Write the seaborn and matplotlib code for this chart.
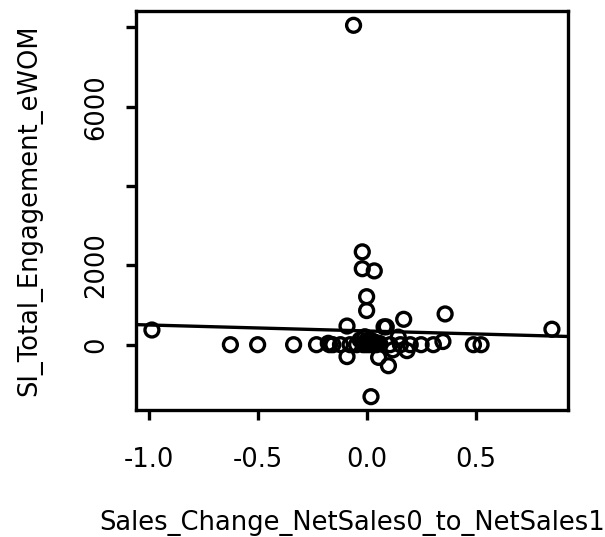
import matplotlib
matplotlib.use("Agg")
import matplotlib.pyplot as plt
import numpy as np
import pandas as pd
import seaborn as sns

# values
sales_change = [-0.06, -0.02, -0.02, 0.035, 0.0, 0.0, 0.36, 0.17, -0.09, 0.08, 0.09,
                -0.985, 0.85, 0.35, 0.145, -0.09, 0.055, 0.10, 0.02, 0.12, 0.185,
                -0.625, -0.50, -0.335, -0.23, -0.17, -0.155, -0.12, -0.076, -0.046,
                -0.015, 0.0, 0.015, 0.03, 0.045, 0.107, 0.155, 0.20, 0.25, 0.306,
                0.49, 0.525, -0.176, -0.03, -0.008, 0.015, 0.038, 0.06, 0.01, 0.025,
                0.04, 0.0, 0.02]
engagement = [8050, 2340, 1915, 1860, 1210, 860, 775, 640, 470, 450, 450,
              370, 390, 80, 190, -300, -320, -530, -1310, -130, -150,
              0, 0, 0, 0, 0, 0, 0, 0, 0,
              0, 0, 0, 0, 0, 0, 0, 0, 0, 0,
              0, 0, 35, 120, 200, 120, 35, 30, 60, 90,
              60, 100, 20]

df = pd.DataFrame({"Sales_Change_NetSales0_to_NetSales1": sales_change,
                   "SI_Total_Engagement_eWOM": engagement})

sns.set_style("white")
plt.rcParams['font.family'] = ['DejaVu Sans']
plt.rcParams['text.color'] = 'black'
plt.rcParams['axes.labelcolor'] = 'black'

fig = plt.figure(figsize=(6.05, 5.37), dpi=100)
ax = fig.add_axes([0.2248, 0.2365, 0.7145, 0.7435])

sns.regplot(data=df, x="Sales_Change_NetSales0_to_NetSales1", y="SI_Total_Engagement_eWOM",
            ax=ax, ci=None, truncate=False,
            scatter_kws=dict(s=100, facecolors="none", edgecolors="black", linewidths=2.4, alpha=1),
            line_kws=dict(color="black", linewidth=2.4))

ax.set_xlim(-1.058, 0.925)
ax.set_ylim(-1646, 8417)
ax.set_xticks([-1.0, -0.5, 0.0, 0.5])
ax.set_xticklabels(["-1.0", "-0.5", "0.0", "0.5"])
ax.set_yticks([0, 2000, 4000, 6000, 8000])
ax.set_yticklabels(["0", "2000", "", "6000", ""], rotation=90, va="center")

for sp in ax.spines.values():
    sp.set_linewidth(2.4)
    sp.set_color("black")

ax.tick_params(axis="both", bottom=True, left=True, direction="out", length=7,
               width=2.4, labelsize=18.5, colors="black")
ax.tick_params(axis="x", pad=20)
ax.tick_params(axis="y", pad=12)
ax.set_xlabel("Sales_Change_NetSales0_to_NetSales1", fontsize=18.5, labelpad=26, color="black")
ax.set_ylabel("SI_Total_Engagement_eWOM", fontsize=18.5, labelpad=30, color="black")

fig.savefig("out.png", dpi=100)
